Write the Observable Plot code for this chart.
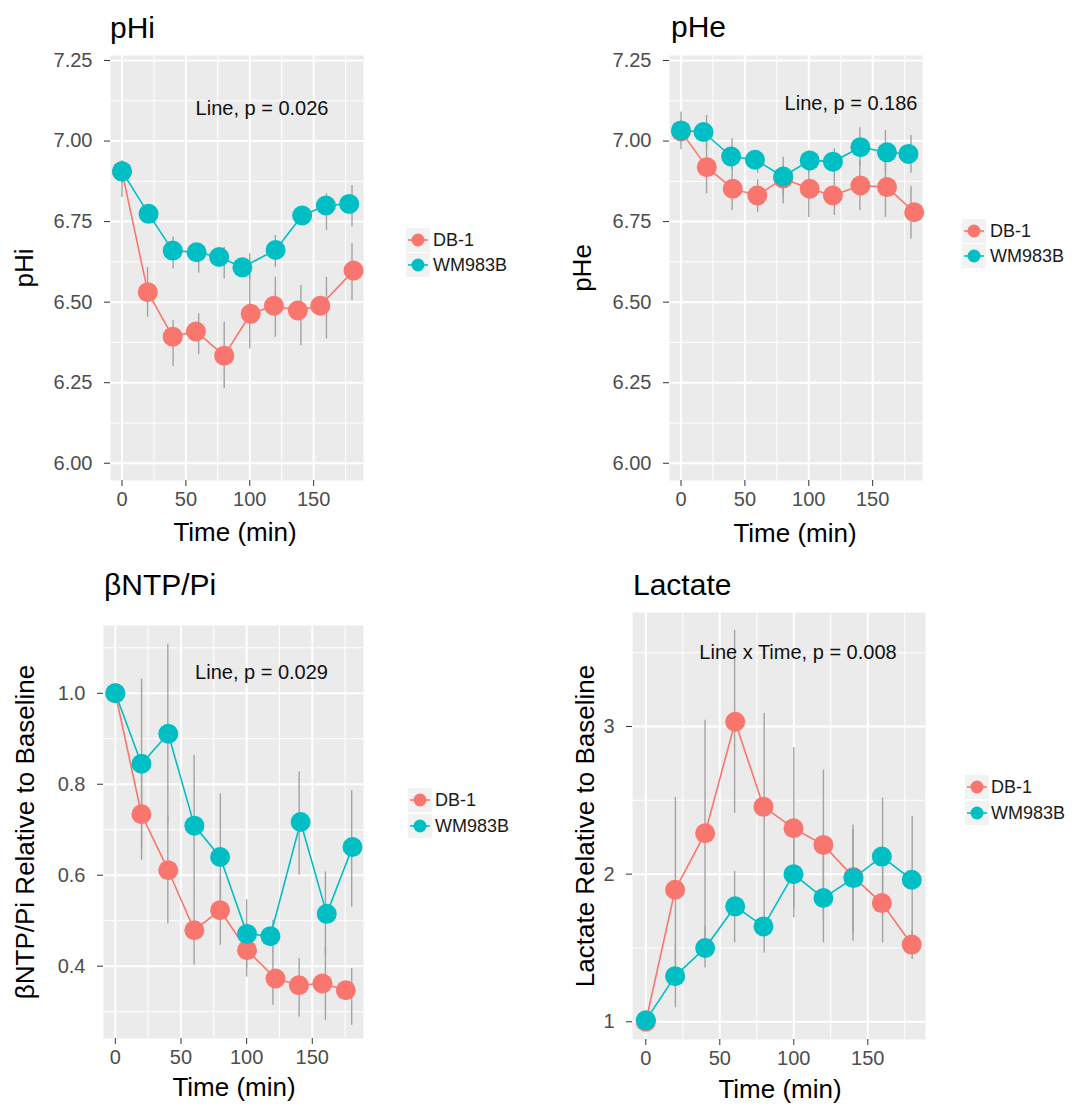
<!DOCTYPE html>
<html>
<head>
<meta charset="utf-8">
<script src="https://cdn.jsdelivr.net/npm/d3@7"></script>
<script src="https://cdn.jsdelivr.net/npm/@observablehq/plot@0.6"></script>
<style>
  body { margin: 0; background: #fff; }
  #root { position: relative; width: 1075px; height: 1107px; background: #fff; overflow: hidden;
          font-family: "Liberation Sans", Arial, sans-serif; }
  .abs { position: absolute; white-space: nowrap; line-height: 1; }
</style>
</head>
<body>
<div id="root"></div>
<script>
// ---------- shared categories / ticks ----------
const series = ["DB-1", "WM983B"];
const seriesColors = ["#F8766D", "#00BFC4"];
const errTimes = [0, 20, 40, 60, 80, 100, 120, 140, 160, 180];
const xTicks = [0, 50, 100, 150];
const xMinor = [25, 75, 125, 175];

// ---------- pHi ----------
const pHiTitle = "pHi";
const pHiNote = ["Line, p = 0.026"];
const pHiYTicks = [6.00, 6.25, 6.50, 6.75, 7.00, 7.25];
const pHiYMinor = [6.125, 6.375, 6.625, 6.875, 7.125];
const pHi_DB1_t = [0, 20.2, 39.7, 57.9, 80, 100.7, 118.9, 137.6, 155.2, 181.2];
const pHi_DB1_v = [6.906, 6.531, 6.393, 6.409, 6.334, 6.464, 6.489, 6.474, 6.489, 6.598];
const pHi_DB1_lo = [6.825, 6.453, 6.300, 6.337, 6.231, 6.355, 6.391, 6.365, 6.386, 6.505];
const pHi_DB1_hi = [6.930, 6.608, 6.443, 6.464, 6.438, 6.598, 6.577, 6.552, 6.577, 6.681];
const pHi_WM_t = [0, 20.8, 39.7, 58.4, 76, 94.2, 120.2, 141, 159.6, 177.8];
const pHi_WM_v = [6.906, 6.774, 6.660, 6.655, 6.640, 6.608, 6.662, 6.769, 6.800, 6.805];
const pHi_WM_lo = [6.870, 6.750, 6.603, 6.590, 6.572, 6.570, 6.608, 6.740, 6.722, 6.733];
const pHi_WM_hi = [6.940, 6.800, 6.702, 6.670, 6.670, 6.650, 6.707, 6.790, 6.836, 6.862];

// ---------- pHe ----------
const pHeTitle = "pHe";
const pHeNote = ["Line, p = 0.186"];
const pHeYTicks = pHiYTicks;
const pHeYMinor = pHiYMinor;
const pHe_DB1_t = [0, 20.2, 40.5, 59.7, 80, 100.7, 118.9, 140.4, 161.2, 182.5];
const pHe_DB1_v = [7.030, 6.919, 6.852, 6.831, 6.884, 6.852, 6.831, 6.862, 6.857, 6.779];
const pHe_DB1_lo = [7.000, 6.836, 6.784, 6.779, 6.805, 6.763, 6.769, 6.784, 6.763, 6.696];
const pHe_DB1_hi = [7.060, 7.000, 6.920, 6.880, 6.920, 6.940, 6.890, 6.940, 6.950, 6.860];
const pHe_WM_t = [0, 17.6, 39.2, 57.9, 80, 100.7, 118.9, 140.4, 161.2, 178];
const pHe_WM_v = [7.033, 7.028, 6.952, 6.942, 6.890, 6.940, 6.936, 6.981, 6.965, 6.960];
const pHe_WM_lo = [6.973, 6.976, 6.910, 6.900, 6.830, 6.900, 6.890, 6.920, 6.900, 6.900];
const pHe_WM_hi = [7.090, 7.079, 7.007, 6.970, 6.950, 6.970, 6.976, 7.041, 7.033, 7.017];

// ---------- βNTP/Pi ----------
const ntpTitle = "βNTP/Pi";
const ntpNote = ["Line, p = 0.029"];
const ntpYTicks = [0.4, 0.6, 0.8, 1.0];
const ntpYMinor = [0.3, 0.5, 0.7, 0.9, 1.1];
const ntp_DB1_t = [0, 19.9, 40.3, 60.2, 79.8, 100.3, 122, 139.8, 157.7, 175.5];
const ntp_DB1_v = [1.0, 0.734, 0.611, 0.479, 0.523, 0.435, 0.373, 0.358, 0.362, 0.347];
const ntp_DB1_lo = [1.0, 0.633, 0.493, 0.402, 0.446, 0.376, 0.314, 0.288, 0.281, 0.270];
const ntp_DB1_hi = [1.0, 0.835, 0.729, 0.556, 0.600, 0.494, 0.432, 0.417, 0.443, 0.395];
const ntp_WM_t = [0, 19.9, 40.3, 60.2, 79.8, 100.3, 118.1, 141.1, 161, 180.6];
const ntp_WM_v = [1.0, 0.845, 0.911, 0.709, 0.640, 0.471, 0.466, 0.717, 0.515, 0.662];
const ntp_WM_lo = [1.0, 0.660, 0.714, 0.555, 0.501, 0.396, 0.430, 0.600, 0.423, 0.530];
const ntp_WM_hi = [1.0, 1.031, 1.108, 0.863, 0.779, 0.546, 0.501, 0.827, 0.607, 0.786];

// ---------- Lactate ----------
const lacTitle = "Lactate";
const lacNote = ["Line x Time, p = 0.008"];
const lacYTicks = [1, 2, 3];
const lacYMinor = [1.5, 2.5, 3.5];
const lac_DB1_t = [0, 19.8, 40.1, 60.4, 79.5, 99.8, 120, 140.3, 159.5, 179.7];
const lac_DB1_v = [1.0, 1.894, 2.277, 3.032, 2.457, 2.311, 2.198, 1.980, 1.804, 1.523];
const lac_DB1_lo = [1.0, 1.270, 1.510, 2.412, 1.830, 1.766, 1.690, 1.545, 1.534, 1.421];
const lac_DB1_hi = [1.0, 2.518, 3.043, 3.651, 3.088, 2.856, 2.705, 2.300, 2.070, 1.620];
const lac_WM_t = [0, 19.8, 40.1, 60.4, 79.5, 99.8, 120, 140.3, 159.5, 179.7];
const lac_WM_v = [1.01, 1.309, 1.500, 1.782, 1.646, 2.000, 1.838, 1.973, 2.119, 1.962];
const lac_WM_lo = [1.0, 1.095, 1.365, 1.534, 1.466, 1.703, 1.534, 1.600, 1.720, 1.530];
const lac_WM_hi = [1.0, 1.520, 1.640, 2.018, 1.830, 2.297, 2.140, 2.333, 2.514, 2.390];

// ---------- helpers ----------
const pointRows = (name, t, v) => t.map((d, i) => ({series: name, t: d, v: v[i]}));
const barRows = (name, lo, hi) => errTimes.map((d, i) => ({series: name, t: d, lo: lo[i], hi: hi[i]}));
const FONT = '"Liberation Sans", Arial, sans-serif';
const root = document.getElementById("root");

function addText(txt, css) {
  const d = document.createElement("div");
  d.className = "abs";
  d.textContent = txt;
  Object.assign(d.style, css);
  root.appendChild(d);
  return d;
}

function addLegend(keyX, textX, rowYs) {
  series.forEach((s, i) => {
    const y = rowYs[i];
    const ns = "http://www.w3.org/2000/svg";
    const svg = document.createElementNS(ns, "svg");
    svg.setAttribute("width", 24); svg.setAttribute("height", 24);
    Object.assign(svg.style, {position: "absolute", left: (keyX - 12) + "px", top: (y - 12) + "px"});
    const rect = document.createElementNS(ns, "rect");
    rect.setAttribute("width", 24); rect.setAttribute("height", 24); rect.setAttribute("fill", "#F2F2F2");
    const line = document.createElementNS(ns, "line");
    line.setAttribute("x1", 2); line.setAttribute("x2", 22); line.setAttribute("y1", 12); line.setAttribute("y2", 12);
    line.setAttribute("stroke", seriesColors[i]); line.setAttribute("stroke-width", 1.6);
    const c = document.createElementNS(ns, "circle");
    c.setAttribute("cx", 12); c.setAttribute("cy", 12); c.setAttribute("r", 6.5); c.setAttribute("fill", seriesColors[i]);
    svg.append(rect, line, c);
    root.appendChild(svg);
    addText(s, {left: textX + "px", top: y + "px", transform: "translateY(-50%)", fontSize: "18px", color: "#1a1a1a"});
  });
}

function panel(cfg) {
  const pts = [...pointRows(series[0], cfg.db.t, cfg.db.v), ...pointRows(series[1], cfg.wm.t, cfg.wm.v)];
  const bars = [...barRows(series[0], cfg.db.lo, cfg.db.hi), ...barRows(series[1], cfg.wm.lo, cfg.wm.hi)];
  const svg = Plot.plot({
    width: cfg.w, height: cfg.h,
    marginLeft: cfg.ml, marginRight: cfg.mr, marginTop: cfg.mt, marginBottom: cfg.mb,
    style: {fontFamily: FONT, background: "transparent", overflow: "visible"},
    x: {domain: [-9, 189]},
    y: {domain: cfg.yDomain},
    color: {domain: series, range: seriesColors},
    marks: [
      Plot.frame({fill: "#EBEBEB", stroke: "none"}),
      Plot.gridX(xMinor, {stroke: "#ffffff", strokeOpacity: 1, strokeWidth: 1}),
      Plot.gridY(cfg.yMinor, {stroke: "#ffffff", strokeOpacity: 1, strokeWidth: 1}),
      Plot.gridX(xTicks, {stroke: "#ffffff", strokeOpacity: 1, strokeWidth: 2}),
      Plot.gridY(cfg.yTicks, {stroke: "#ffffff", strokeOpacity: 1, strokeWidth: 2}),
      Plot.ruleX(bars, {x: "t", y1: "lo", y2: "hi", stroke: "#a3a3a3", strokeWidth: 1.4}),
      Plot.line(pts, {x: "t", y: "v", z: "series", stroke: "series", strokeWidth: 1.6}),
      Plot.dot(pts, {x: "t", y: "v", fill: "series", r: 10, stroke: "none"}),
      Plot.text(cfg.note, {frameAnchor: "top", dx: cfg.noteDx, dy: cfg.noteDy, lineAnchor: "middle",
                           fontSize: 20, fill: "#111111"}),
      Plot.axisX(xTicks, {tickSize: 6, tickPadding: 5, fontSize: 20, stroke: "#333333", fill: "#4d4d4d", label: null}),
      Plot.axisY(cfg.yTicks, {tickSize: 6, tickPadding: 12, fontSize: 20, stroke: "#333333", fill: "#4d4d4d",
                              tickFormat: d3.format(cfg.yFormat), label: null})
    ]
  });
  Object.assign(svg.style, {position: "absolute", left: cfg.left + "px", top: cfg.top + "px"});
  root.appendChild(svg);

  // panel title (left-aligned with plot area)
  addText(cfg.title, {left: cfg.titleX + "px", top: (cfg.titleBase - 25.4) + "px", fontSize: "30px", color: "#000"});
  // y axis title
  addText(cfg.yTitle, {left: cfg.yTitleX + "px", top: cfg.yTitleY + "px", fontSize: "26px", color: "#000",
                       transform: "translate(-50%,-50%) rotate(-90deg)"});
  // x axis title
  addText("Time (min)", {left: cfg.xTitleX + "px", top: cfg.xTitleY + "px", fontSize: "26px", color: "#000",
                         transform: "translate(-50%,-50%)"});
  addLegend(cfg.keyX, cfg.textX, cfg.rows);
}

panel({
  title: pHiTitle, note: pHiNote, yTitle: "pHi",
  left: 0, top: 45, w: 385, h: 475, ml: 110, mr: 22, mt: 10, mb: 40,
  yDomain: [5.9465, 7.2655], yTicks: pHiYTicks, yMinor: pHiYMinor, yFormat: ".2f",
  db: {t: pHi_DB1_t, v: pHi_DB1_v, lo: pHi_DB1_lo, hi: pHi_DB1_hi},
  wm: {t: pHi_WM_t, v: pHi_WM_v, lo: pHi_WM_lo, hi: pHi_WM_hi},
  noteDx: 25, noteDy: 53,
  titleX: 110, titleBase: 38, yTitleX: 24, yTitleY: 268, xTitleX: 235, xTitleY: 532,
  keyX: 418, textX: 433, rows: [240, 265]
});

panel({
  title: pHeTitle, note: pHeNote, yTitle: "pHe",
  left: 560, top: 45, w: 380, h: 475, ml: 109, mr: 18, mt: 10, mb: 40,
  yDomain: [5.9465, 7.2655], yTicks: pHeYTicks, yMinor: pHeYMinor, yFormat: ".2f",
  db: {t: pHe_DB1_t, v: pHe_DB1_v, lo: pHe_DB1_lo, hi: pHe_DB1_hi},
  wm: {t: pHe_WM_t, v: pHe_WM_v, lo: pHe_WM_lo, hi: pHe_WM_hi},
  noteDx: 55, noteDy: 48,
  titleX: 671, titleBase: 37, yTitleX: 582, yTitleY: 268, xTitleX: 795, xTitleY: 533,
  keyX: 974, textX: 990, rows: [231, 256]
});

panel({
  title: ntpTitle, note: ntpNote, yTitle: "βNTP/Pi Relative to Baseline",
  left: 0, top: 605, w: 385, h: 475, ml: 103, mr: 22, mt: 20, mb: 42,
  yDomain: [0.241, 1.149], yTicks: ntpYTicks, yMinor: ntpYMinor, yFormat: ".1f",
  db: {t: ntp_DB1_t, v: ntp_DB1_v, lo: ntp_DB1_lo, hi: ntp_DB1_hi},
  wm: {t: ntp_WM_t, v: ntp_WM_v, lo: ntp_WM_lo, hi: ntp_WM_hi},
  noteDx: 28, noteDy: 47,
  titleX: 104, titleBase: 595, yTitleX: 25, yTitleY: 832, xTitleX: 234, xTitleY: 1087,
  keyX: 420, textX: 435, rows: [800, 826]
});

panel({
  title: lacTitle, note: lacNote, yTitle: "Lactate Relative to Baseline",
  left: 560, top: 600, w: 380, h: 480, ml: 72, mr: 15, mt: 12, mb: 41,
  yDomain: [0.88, 3.772], yTicks: lacYTicks, yMinor: lacYMinor, yFormat: "d",
  db: {t: lac_DB1_t, v: lac_DB1_v, lo: lac_DB1_lo, hi: lac_DB1_hi},
  wm: {t: lac_WM_t, v: lac_WM_v, lo: lac_WM_lo, hi: lac_WM_hi},
  noteDx: 19, noteDy: 40,
  titleX: 633, titleBase: 595, yTitleX: 585, yTitleY: 826, xTitleX: 780, xTitleY: 1089,
  keyX: 977, textX: 991, rows: [787, 813]
});
</script>
</body>
</html>
